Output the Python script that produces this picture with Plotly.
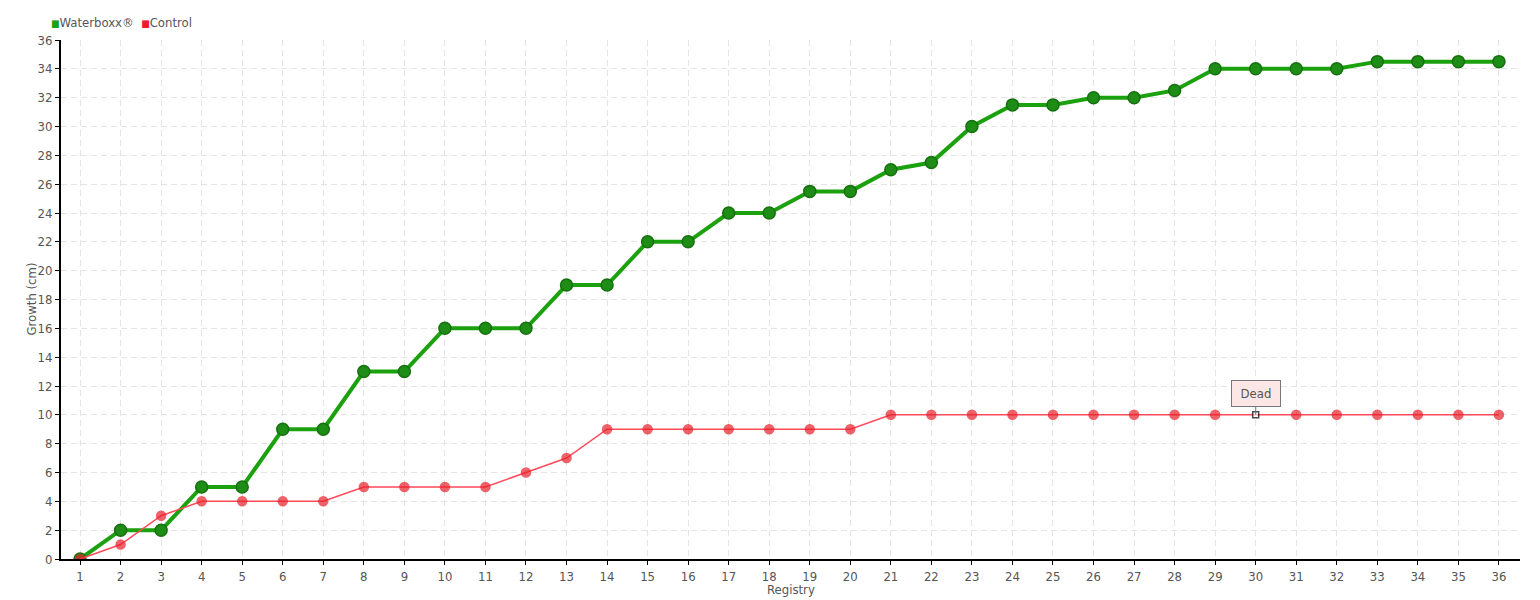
import plotly.graph_objects as go

registry = list(range(1, 37))
waterboxx = [0, 2, 2, 5, 5, 9, 9, 13, 13, 16, 16, 16, 19, 19, 22, 22, 24, 24,
             25.5, 25.5, 27, 27.5, 30, 31.5, 31.5, 32, 32, 32.5, 34, 34, 34, 34,
             34.5, 34.5, 34.5, 34.5]
control = [0, 1, 3, 4, 4, 4, 4, 5, 5, 5, 5, 6, 7, 9, 9, 9, 9, 9, 9, 9,
           10, 10, 10, 10, 10, 10, 10, 10, 10, 10, 10, 10, 10, 10, 10, 10]
y_ticks = list(range(0, 37, 2))
dead_index = 30

FONT = "DejaVu Sans Condensed, Roboto, sans-serif"
TXT = "#555555"
GREEN = "#1ca10e"
RED = "#e8202a"

fig = go.Figure()
fig.add_trace(go.Scatter(
    x=registry, y=waterboxx, name="Waterboxx®", mode="lines+markers",
    line=dict(color=GREEN, width=4), showlegend=False,
    marker=dict(size=12, color="#1d8d15", line=dict(color="#16700f", width=1.5)),
))
ctrl_sym = ["square" if r == dead_index else "circle" for r in registry]
ctrl_col = ["white" if r == dead_index else RED for r in registry]
ctrl_size = [6 if r == dead_index else 9 for r in registry]
ctrl_lc = ["black" if r == dead_index else RED for r in registry]
fig.add_trace(go.Scatter(
    x=registry, y=control, name="Control", mode="lines+markers",
    line=dict(color="#ff4a5a", width=1.5), showlegend=False,
    marker=dict(size=ctrl_size, color=ctrl_col, symbol=ctrl_sym,
                line=dict(color=ctrl_lc, width=1.5)),
))

fig.add_annotation(
    x=dead_index, y=control[dead_index - 1], text="Dead", showarrow=True,
    arrowhead=0, arrowwidth=1, arrowcolor="#777777", ax=0, ay=-21,
    bgcolor="#fde6e6", bordercolor="#777777", borderwidth=1, borderpad=4,
    width=40, height=17,
    font=dict(family=FONT, size=13, color=TXT),
)

# legend (as text)
fig.add_annotation(
    xref="paper", yref="paper", x=-0.008, y=1.0, yshift=18,
    xanchor="left", yanchor="middle", showarrow=False,
    text=f"<span style='color:{GREEN};font-size:10px'>■</span>Waterboxx®  "
         f"<span style='color:{RED};font-size:10px'>■</span>Control",
    font=dict(family=FONT, size=13, color=TXT),
)
# axis titles
fig.add_annotation(
    xref="paper", yref="paper", x=0.5, y=0, yshift=-21,
    xanchor="center", yanchor="top", showarrow=False, text="Registry",
    font=dict(family=FONT, size=13, color=TXT),
)
fig.add_annotation(
    xref="paper", yref="paper", x=0, xshift=-30, y=0.5,
    xanchor="center", yanchor="middle", showarrow=False, text="Growth (cm)",
    textangle=-90, font=dict(family=FONT, size=13, color=TXT),
)

fig.update_layout(
    width=1532, height=592,
    margin=dict(l=53, r=20, t=32, b=41, autoexpand=False),
    paper_bgcolor="white", plot_bgcolor="white",
    font=dict(family=FONT, size=13, color=TXT),
    showlegend=False,
    xaxis=dict(
        range=[0.53, 36.52], tickmode="array", tickvals=registry,
        ticktext=[str(r) for r in registry],
        showgrid=True, gridcolor="#e4e4e4", griddash="6px,4px", gridwidth=1,
        showline=True, linecolor="black", linewidth=2,
        ticks="outside", ticklen=4, tickcolor="black",
        zeroline=False, automargin=False,
    ),
    yaxis=dict(
        range=[0, 36], tickmode="array", tickvals=y_ticks,
        showgrid=True, gridcolor="#e4e4e4", griddash="6px,4px", gridwidth=1,
        showline=True, linecolor="black", linewidth=2,
        ticks="outside", ticklen=4, tickcolor="black",
        zeroline=False, automargin=False,
    ),
)

fig.write_html("out.html")
